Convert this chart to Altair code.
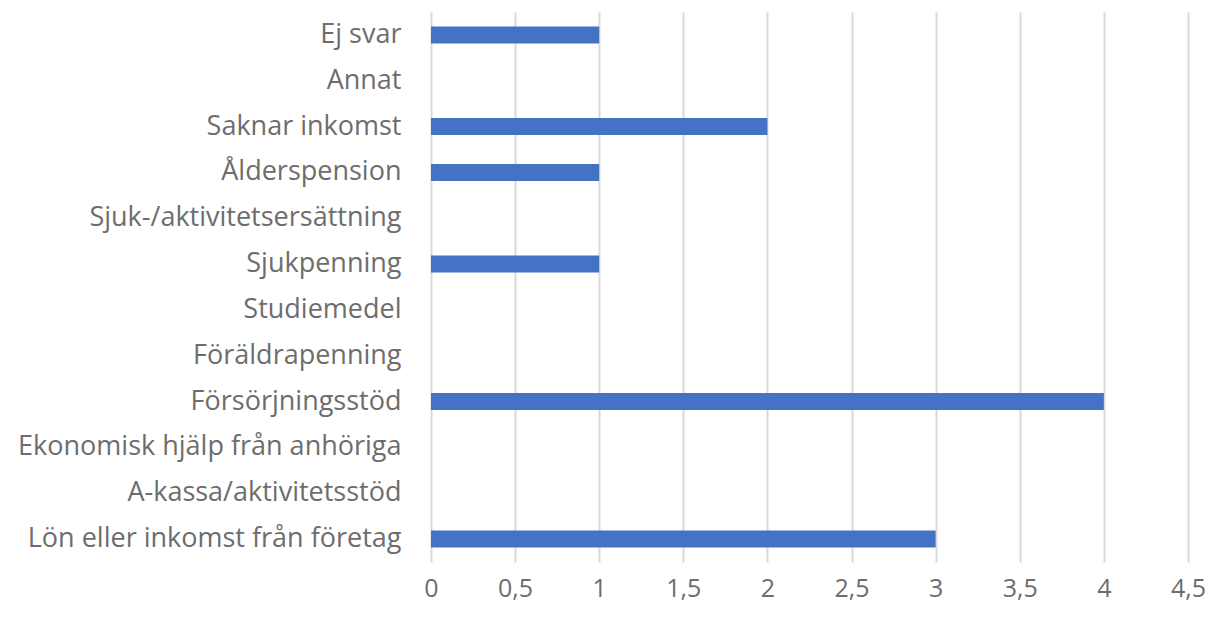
import altair as alt
import pandas as pd

categories = [
    "Ej svar",
    "Annat",
    "Saknar inkomst",
    "Ålderspension",
    "Sjuk-/aktivitetsersättning",
    "Sjukpenning",
    "Studiemedel",
    "Föräldrapenning",
    "Försörjningsstöd",
    "Ekonomisk hjälp från anhöriga",
    "A-kassa/aktivitetsstöd",
    "Lön eller inkomst från företag",
]
values = [1, 0, 2, 1, 0, 1, 0, 0, 4, 0, 0, 3]
x_ticks = [0, 0.5, 1, 1.5, 2, 2.5, 3, 3.5, 4, 4.5]

df = pd.DataFrame({"kategori": categories, "antal": values})

font = "Open Sans"
label_color = "#6d6d6d"

chart = (
    alt.Chart(df)
    .mark_bar(color="#4472C4", size=17)
    .encode(
        x=alt.X(
            "antal:Q",
            scale=alt.Scale(domain=[0, 4.5], nice=False, zero=True),
            axis=alt.Axis(
                values=x_ticks,
                labelExpr="replace(format(datum.value, '.1~f'), '.', ',')",
                title=None,
                domain=False,
                ticks=False,
                grid=True,
                gridColor="#d9d9d9",
                gridWidth=2,
                labelFont=font,
                labelFontSize=25,
                labelColor=label_color,
                labelPadding=14,
                labelFlush=False,
            ),
        ),
        y=alt.Y(
            "kategori:N",
            sort=categories,
            scale=alt.Scale(paddingInner=0.6, paddingOuter=0.3),
            axis=alt.Axis(
                title=None,
                domain=False,
                ticks=False,
                grid=False,
                labelFont=font,
                labelFontSize=27,
                labelColor=label_color,
                labelPadding=30,
                labelLimit=500,
            ),
        ),
    )
    .properties(
        width=757,
        height=550,
        background="white",
        autosize=alt.AutoSizeParams(type="none"),
        padding={"left": 423, "top": 4, "right": 18, "bottom": 49},
    )
    .configure_view(stroke=None)
)

chart.save("out.html", embed_options={"renderer": "svg", "actions": False})
